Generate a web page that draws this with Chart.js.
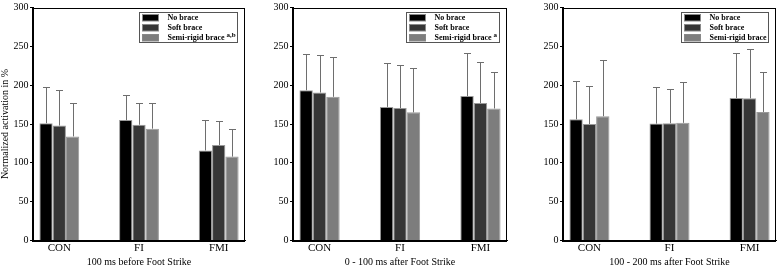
<!DOCTYPE html>
<html>
<head>
<meta charset="utf-8">
<script src="https://cdn.jsdelivr.net/npm/chart.js@4"></script>
<style>
  body { margin: 0; background: #fff; }
  canvas { position: absolute; top: 0; }
</style>
</head>
<body>
<canvas id="panel1" width="250" height="267" style="left:0px"></canvas>
<canvas id="panel2" width="250" height="267" style="left:262px"></canvas>
<canvas id="panel3" width="246" height="267" style="left:532px"></canvas>
<script>
const categories = ["CON", "FI", "FMI"];
const seriesLabels = ["No brace", "Soft brace", "Semi-rigid brace"];
const seriesColors = ["#000000", "#363636", "#7d7d7d"];
const yTicks = [0, 50, 100, 150, 200, 250, 300];

// 100 ms before foot strike
const before100Mean = [[151, 155, 116], [148, 149, 123], [134, 144, 108]];
const before100Sd = [[47, 32, 39], [46, 28, 31], [43, 33, 36]];

// 0 - 100 ms after foot strike
const after0to100Mean = [[193.5, 172, 186], [190.5, 170.5, 177], [185, 165, 170]];
const after0to100Sd = [[46.5, 56.5, 55], [48.5, 55, 53], [51, 57, 47]];

// 100 - 200 ms after foot strike
const after100to200Mean = [[156, 150.5, 183.5], [150, 151, 183], [160, 151.5, 165.5]];
const after100to200Sd = [[50, 47.5, 58], [49.5, 43.5, 63.5], [73, 52, 51]];

const panelTitles = ["100 ms before Foot Strike", "0 - 100 ms after Foot Strike", "100 - 200 ms after Foot Strike"];
const legendSuperscripts = ["a,b", "a", ""];

Chart.defaults.font.family = "'Liberation Serif', 'Times New Roman', serif";
Chart.defaults.color = "#000";

const errorBars = {
    id: "errorBars",
    afterDatasetsDraw(chart) {
        const ctx = chart.ctx;
        const yScale = chart.scales.y;
        ctx.save();
        ctx.strokeStyle = "#6e6e6e";
        ctx.lineWidth = 1;
        chart.data.datasets.forEach((ds, i) => {
            const meta = chart.getDatasetMeta(i);
            meta.data.forEach((bar, j) => {
                const top = yScale.getPixelForValue(ds.data[j].y + ds.sd[j]);
                const x = Math.round(bar.x) + 0.5;
                const yt = Math.round(top) + 0.5;
                ctx.beginPath();
                ctx.moveTo(x, bar.y);
                ctx.lineTo(x, yt);
                ctx.moveTo(x - 3.5, yt);
                ctx.lineTo(x + 3.5, yt);
                ctx.stroke();
            });
        });
        ctx.restore();
    }
};

const frameAndLegend = {
    id: "frameAndLegend",
    afterDraw(chart, args, opts) {
        const ctx = chart.ctx;
        const area = chart.chartArea;
        ctx.save();
        ctx.strokeStyle = "#000";
        ctx.lineWidth = 1;
        ctx.strokeRect(Math.round(area.left) - 0.5, Math.round(area.top) + 0.5,
            Math.round(area.right - area.left), Math.round(area.bottom - area.top));

        // legend box
        ctx.font = "bold 8px 'Liberation Serif'";
        let textW = 0;
        seriesLabels.forEach((l) => { textW = Math.max(textW, ctx.measureText(l).width); });
        let supW = 0;
        if (opts.sup) {
            ctx.font = "bold 7px 'Liberation Serif'";
            supW = ctx.measureText(opts.sup).width + 2;
        }
        const boxW = Math.round(28 + textW + supW + 2);
        const boxH = 30;
        const left = Math.round(area.right - 8 - boxW) + 0.5;
        const top = 12.5;
        ctx.strokeStyle = "#555";
        ctx.strokeRect(left, top, boxW, boxH);
        seriesLabels.forEach((l, i) => {
            const cy = top + 5 + i * 10;
            ctx.fillStyle = seriesColors[i];
            ctx.fillRect(left + 3, cy - 3, 16, 6.5);
            ctx.strokeStyle = "#888";
            ctx.strokeRect(left + 3, cy - 3, 16, 6.5);
            ctx.fillStyle = "#000";
            ctx.font = "bold 8px 'Liberation Serif'";
            ctx.textBaseline = "middle";
            ctx.textAlign = "left";
            ctx.fillText(l, left + 28, cy);
            if (i === 2 && opts.sup) {
                ctx.font = "bold 7px 'Liberation Serif'";
                ctx.fillText(opts.sup, left + 28 + textW + 2, cy - 2.5);
            }
        });
        ctx.restore();
    }
};

function makePanel(canvasId, means, sds, title, sup, yWidth, padRight, showYTitle) {
    const datasets = seriesLabels.map((label, i) => ({
        label: label,
        data: categories.map((c, j) => ({ x: j + 1, y: means[i][j] })),
        sd: sds[i],
        backgroundColor: seriesColors[i],
        borderColor: "#9a9a9a",
        borderWidth: 1,
        borderSkipped: "bottom",
        categoryPercentage: 0.5,
        barPercentage: 1
    }));

    return new Chart(document.getElementById(canvasId), {
        type: "bar",
        data: { datasets: datasets },
        options: {
            responsive: false,
            animation: false,
            devicePixelRatio: 1,
            layout: { padding: { top: 4, right: padRight, bottom: 0, left: 0 } },
            plugins: {
                legend: { display: false },
                tooltip: { enabled: false },
                frameAndLegend: { sup: sup }
            },
            scales: {
                x: {
                    type: "linear",
                    offset: false,
                    min: 0.67,
                    max: 3.33,
                    afterBuildTicks: (scale) => {
                        scale.ticks = categories.map((c, j) => ({ value: j + 1 }));
                    },
                    afterFit: (scale) => { scale.height = 26.5; },
                    grid: { display: false, drawTicks: false },
                    border: { color: "#000", width: 1 },
                    ticks: {
                        padding: 1,
                        font: { size: 11 },
                        color: "#000",
                        callback: (v) => categories[v - 1] || ""
                    },
                    title: {
                        display: true,
                        text: title,
                        font: { size: 10, lineHeight: 1 },
                        color: "#000",
                        padding: { top: 0, bottom: 0 }
                    }
                },
                y: {
                    min: 0,
                    max: 300,
                    afterBuildTicks: (scale) => {
                        scale.ticks = yTicks.map((v) => ({ value: v }));
                    },
                    afterFit: (scale) => { scale.width = yWidth; },
                    grid: {
                        drawOnChartArea: false,
                        tickLength: 3,
                        tickColor: "#000"
                    },
                    border: { color: "#000", width: 1 },
                    ticks: { padding: 1.5, font: { size: 10 }, color: "#000" },
                    title: {
                        display: showYTitle,
                        text: "Normalized activation in %",
                        font: { size: 10, lineHeight: 1 },
                        color: "#000",
                        padding: 0
                    }
                }
            }
        },
        plugins: [errorBars, frameAndLegend]
    });
}

makePanel("panel1", before100Mean, before100Sd, panelTitles[0], legendSuperscripts[0], 33, 5, true);
makePanel("panel2", after0to100Mean, after0to100Sd, panelTitles[1], legendSuperscripts[1], 31, 5, false);
makePanel("panel3", after100to200Mean, after100to200Sd, panelTitles[2], legendSuperscripts[2], 31, 2, false);
</script>
</body>
</html>
